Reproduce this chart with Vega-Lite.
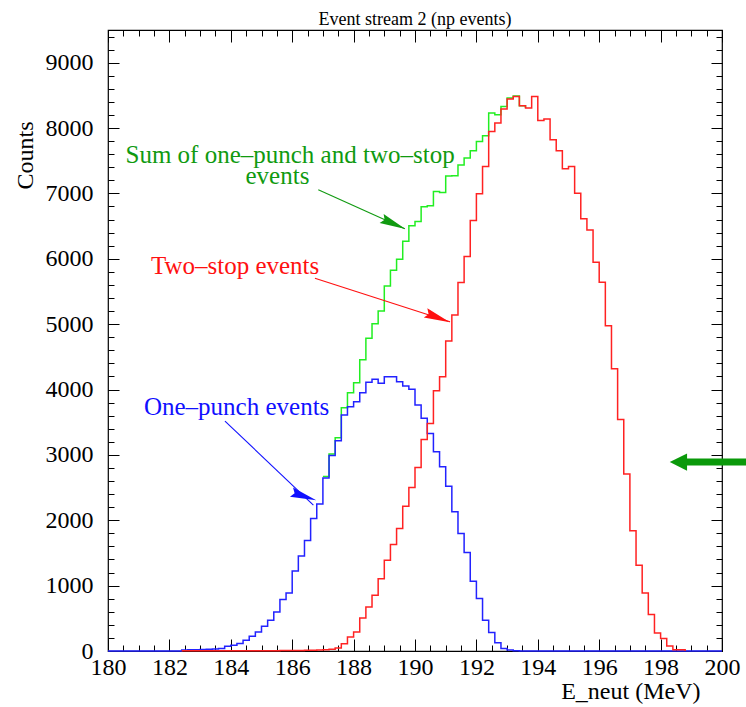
{
  "$schema": "https://vega.github.io/schema/vega-lite/v6.json",
  "width": 614,
  "height": 621,
  "autosize": {"type": "none"},
  "padding": {"left": 108, "top": 30, "right": 24, "bottom": 56},
  "background": "white",
  "title": {
    "text": "Event stream 2 (np events)",
    "font": "Liberation Serif",
    "fontSize": 18,
    "fontWeight": "normal",
    "color": "#000",
    "anchor": "middle",
    "frame": "group",
    "baseline": "alphabetic",
    "offset": 6,
    "dy": 19
  },
  "config": {
    "view": {"stroke": "#000", "strokeWidth": 1.2},
    "axis": {
      "grid": false,
      "domain": false,
      "tickColor": "#000",
      "tickWidth": 1,
      "labelColor": "#000",
      "labelFont": "Liberation Serif",
      "labelFontSize": 24,
      "titleFont": "Liberation Serif",
      "titleFontSize": 24,
      "titleFontWeight": "normal",
      "titleColor": "#000"
    }
  },
  "datasets": {
    "hist": [
      {"E": 180.0, "one": 0, "two": null, "sum": null},
      {"E": 180.2, "one": 0, "two": null, "sum": null},
      {"E": 180.4, "one": 0, "two": null, "sum": null},
      {"E": 180.6, "one": 0, "two": null, "sum": null},
      {"E": 180.8, "one": 0, "two": null, "sum": null},
      {"E": 181.0, "one": 0, "two": null, "sum": null},
      {"E": 181.2, "one": 0, "two": null, "sum": null},
      {"E": 181.4, "one": 0, "two": null, "sum": null},
      {"E": 181.6, "one": 0, "two": null, "sum": null},
      {"E": 181.8, "one": 0, "two": null, "sum": null},
      {"E": 182.0, "one": 0, "two": null, "sum": null},
      {"E": 182.2, "one": 0, "two": null, "sum": null},
      {"E": 182.4, "one": 15, "two": 5, "sum": null},
      {"E": 182.6, "one": 18, "two": 5, "sum": null},
      {"E": 182.8, "one": 20, "two": 5, "sum": null},
      {"E": 183.0, "one": 22, "two": 5, "sum": null},
      {"E": 183.2, "one": 25, "two": 5, "sum": null},
      {"E": 183.4, "one": 30, "two": 5, "sum": null},
      {"E": 183.6, "one": 40, "two": 5, "sum": null},
      {"E": 183.8, "one": 72, "two": 5, "sum": null},
      {"E": 184.0, "one": 87, "two": 5, "sum": null},
      {"E": 184.2, "one": 113, "two": 5, "sum": null},
      {"E": 184.4, "one": 164, "two": 5, "sum": null},
      {"E": 184.6, "one": 225, "two": 5, "sum": null},
      {"E": 184.8, "one": 291, "two": 5, "sum": null},
      {"E": 185.0, "one": 378, "two": 5, "sum": null},
      {"E": 185.2, "one": 470, "two": 5, "sum": null},
      {"E": 185.4, "one": 597, "two": 5, "sum": null},
      {"E": 185.6, "one": 787, "two": 6, "sum": null},
      {"E": 185.8, "one": 888, "two": 6, "sum": null},
      {"E": 186.0, "one": 1225, "two": 8, "sum": null},
      {"E": 186.2, "one": 1455, "two": 8, "sum": null},
      {"E": 186.4, "one": 1690, "two": 10, "sum": null},
      {"E": 186.6, "one": 2028, "two": 10, "sum": null},
      {"E": 186.8, "one": 2247, "two": 15, "sum": null},
      {"E": 187.0, "one": 2648, "two": 20, "sum": 2668},
      {"E": 187.2, "one": 2990, "two": 25, "sum": 3015},
      {"E": 187.4, "one": 3216, "two": 45, "sum": 3261},
      {"E": 187.6, "one": 3610, "two": 112, "sum": 3722},
      {"E": 187.8, "one": 3737, "two": 214, "sum": 3951},
      {"E": 188.0, "one": 3814, "two": 291, "sum": 4105},
      {"E": 188.2, "one": 3951, "two": 505, "sum": 4456},
      {"E": 188.4, "one": 4110, "two": 673, "sum": 4783},
      {"E": 188.6, "one": 4156, "two": 852, "sum": 5008},
      {"E": 188.8, "one": 4095, "two": 1107, "sum": 5202},
      {"E": 189.0, "one": 4196, "two": 1388, "sum": 5584},
      {"E": 189.2, "one": 4196, "two": 1628, "sum": 5824},
      {"E": 189.4, "one": 4120, "two": 1873, "sum": 5993},
      {"E": 189.6, "one": 4054, "two": 2215, "sum": 6269},
      {"E": 189.8, "one": 4003, "two": 2501, "sum": 6504},
      {"E": 190.0, "one": 3763, "two": 2807, "sum": 6570},
      {"E": 190.2, "one": 3559, "two": 3236, "sum": 6795},
      {"E": 190.4, "one": 3329, "two": 3481, "sum": 6810},
      {"E": 190.6, "one": 3047, "two": 3981, "sum": 7028},
      {"E": 190.8, "one": 2818, "two": 4196, "sum": 7014},
      {"E": 191.0, "one": 2522, "two": 4743, "sum": 7265},
      {"E": 191.2, "one": 2129, "two": 5141, "sum": 7270},
      {"E": 191.4, "one": 1798, "two": 5636, "sum": 7434},
      {"E": 191.6, "one": 1507, "two": 6034, "sum": 7541},
      {"E": 191.8, "one": 1067, "two": 6585, "sum": 7652},
      {"E": 192.0, "one": 802, "two": 6994, "sum": 7796},
      {"E": 192.2, "one": 470, "two": 7412, "sum": 7882},
      {"E": 192.4, "one": 282, "two": 7948, "sum": 8230},
      {"E": 192.6, "one": 127, "two": 8077, "sum": 8204},
      {"E": 192.8, "one": 40, "two": 8291, "sum": 8331},
      {"E": 193.0, "one": 15, "two": 8444, "sum": 8459},
      {"E": 193.2, "one": 5, "two": 8484, "sum": 8489},
      {"E": 193.4, "one": 0, "two": 8341, "sum": 8341},
      {"E": 193.6, "one": 0, "two": 8306, "sum": 8306},
      {"E": 193.8, "one": 0, "two": 8484, "sum": null},
      {"E": 194.0, "one": 0, "two": 8116, "sum": null},
      {"E": 194.2, "one": 0, "two": 8137, "sum": null},
      {"E": 194.4, "one": 0, "two": 7821, "sum": null},
      {"E": 194.6, "one": 0, "two": 7652, "sum": null},
      {"E": 194.8, "one": 0, "two": 7377, "sum": null},
      {"E": 195.0, "one": 0, "two": 7412, "sum": null},
      {"E": 195.2, "one": 0, "two": 7004, "sum": null},
      {"E": 195.4, "one": 0, "two": 6611, "sum": null},
      {"E": 195.6, "one": 0, "two": 6442, "sum": null},
      {"E": 195.8, "one": 0, "two": 5948, "sum": null},
      {"E": 196.0, "one": 0, "two": 5642, "sum": null},
      {"E": 196.2, "one": 0, "two": 4977, "sum": null},
      {"E": 196.4, "one": 0, "two": 4318, "sum": null},
      {"E": 196.6, "one": 0, "two": 3543, "sum": null},
      {"E": 196.8, "one": 0, "two": 2706, "sum": null},
      {"E": 197.0, "one": 0, "two": 1838, "sum": null},
      {"E": 197.2, "one": 0, "two": 1312, "sum": null},
      {"E": 197.4, "one": 0, "two": 888, "sum": null},
      {"E": 197.6, "one": 0, "two": 557, "sum": null},
      {"E": 197.8, "one": 0, "two": 276, "sum": null},
      {"E": 198.0, "one": 0, "two": 190, "sum": null},
      {"E": 198.2, "one": 0, "two": 77, "sum": null},
      {"E": 198.4, "one": 0, "two": 21, "sum": null},
      {"E": 198.6, "one": 0, "two": 21, "sum": null},
      {"E": 198.8, "one": 0, "two": 0, "sum": null},
      {"E": 199.0, "one": 0, "two": null, "sum": null},
      {"E": 199.2, "one": 0, "two": null, "sum": null},
      {"E": 199.4, "one": 0, "two": null, "sum": null},
      {"E": 199.6, "one": 0, "two": null, "sum": null},
      {"E": 199.8, "one": 0, "two": null, "sum": null},
      {"E": 200.0, "one": 0, "two": null, "sum": null}
    ],
    "arrows": [
      {"series": "sum", "E0": 186.85, "n0": 7055, "E1": 189.67, "n1": 6458},
      {"series": "two", "E0": 186.74, "n0": 5703, "E1": 191.14, "n1": 5038},
      {"series": "one", "E0": 183.81, "n0": 3518, "E1": 186.69, "n1": 2231}
    ],
    "heads": [
      {"series": "sum", "E": 189.30, "n": 6536},
      {"series": "two", "E": 190.74, "n": 5100},
      {"series": "one", "E": 186.38, "n": 2369}
    ],
    "notes": [
      {"series": "sum", "E": 185.93, "n": 7465, "label": "Sum of one–punch and two–stop"},
      {"series": "sum", "E": 185.52, "n": 7139, "label": "events"},
      {"series": "two", "E": 184.14, "n": 5773, "label": "Two–stop events"},
      {"series": "one", "E": 184.19, "n": 3606, "label": "One–punch events"}
    ],
    "marker": [
      {"E0": 198.85, "E1": 200.8, "n": 2890, "Ehead": 198.58}
    ]
  },
  "layer": [
    {
      "data": {"name": "hist"},
      "mark": {"type": "line", "interpolate": "step-after", "color": "#22ee22", "strokeWidth": 1.5},
      "encoding": {
        "x": {
          "field": "E", "type": "quantitative",
          "scale": {"domain": [180, 200], "nice": false, "zero": false},
          "axis": {
            "orient": "bottom", "ticks": false, "labels": true,
            "values": [180, 182, 184, 186, 188, 190, 192, 194, 196, 198, 200],
            "format": "d", "labelPadding": 4, "labelFlush": false,
            "title": "E_neut (MeV)", "titleAnchor": "end", "titleAlign": "right",
            "titleBaseline": "alphabetic", "titleX": 592, "titleY": 47
          }
        },
        "y": {
          "field": "sum", "type": "quantitative",
          "scale": {"domain": [0, 9500], "nice": false},
          "axis": {
            "orient": "left", "ticks": false, "labels": true,
            "values": [0, 1000, 2000, 3000, 4000, 5000, 6000, 7000, 8000, 9000],
            "format": "d", "labelPadding": 15, "labelFlush": false, "labelBaseline": "middle",
            "title": "Counts", "titleAngle": -90, "titleAlign": "center",
            "titleBaseline": "alphabetic", "titleX": -76, "titleY": 125
          }
        }
      }
    },
    {
      "data": {"name": "hist"},
      "mark": {"type": "line", "interpolate": "step-after", "color": "#2222ff", "strokeWidth": 1.5},
      "encoding": {
        "x": {
          "field": "E", "type": "quantitative",
          "axis": {
            "orient": "bottom", "labels": false, "title": null, "tickSize": -12,
            "values": [180, 182, 184, 186, 188, 190, 192, 194, 196, 198, 200]
          }
        },
        "y": {
          "field": "one", "type": "quantitative",
          "axis": {
            "orient": "left", "labels": false, "title": null, "tickSize": -11,
            "values": [0, 1000, 2000, 3000, 4000, 5000, 6000, 7000, 8000, 9000]
          }
        }
      }
    },
    {
      "data": {"name": "hist"},
      "mark": {"type": "line", "interpolate": "step-after", "color": "#ff2222", "strokeWidth": 1.5},
      "encoding": {
        "x": {
          "field": "E", "type": "quantitative",
          "axis": {
            "orient": "bottom", "labels": false, "title": null, "tickSize": -6,
            "values": [180, 180.5, 181, 181.5, 182, 182.5, 183, 183.5, 184, 184.5, 185, 185.5, 186, 186.5, 187, 187.5, 188, 188.5, 189, 189.5, 190, 190.5, 191, 191.5, 192, 192.5, 193, 193.5, 194, 194.5, 195, 195.5, 196, 196.5, 197, 197.5, 198, 198.5, 199, 199.5, 200]
          }
        },
        "y": {
          "field": "two", "type": "quantitative",
          "axis": {
            "orient": "left", "labels": false, "title": null, "tickSize": -6,
            "values": [0, 200, 400, 600, 800, 1000, 1200, 1400, 1600, 1800, 2000, 2200, 2400, 2600, 2800, 3000, 3200, 3400, 3600, 3800, 4000, 4200, 4400, 4600, 4800, 5000, 5200, 5400, 5600, 5800, 6000, 6200, 6400, 6600, 6800, 7000, 7200, 7400, 7600, 7800, 8000, 8200, 8400, 8600, 8800, 9000, 9200, 9400]
          }
        }
      }
    },
    {
      "data": {"name": "arrows"},
      "mark": {"type": "rule", "strokeWidth": 1.1},
      "encoding": {
        "x": {
          "field": "E0", "type": "quantitative",
          "axis": {
            "orient": "top", "labels": false, "title": null, "tickSize": -12,
            "values": [180, 182, 184, 186, 188, 190, 192, 194, 196, 198, 200]
          }
        },
        "y": {
          "field": "n0", "type": "quantitative",
          "axis": {
            "orient": "right", "labels": false, "title": null, "tickSize": -11,
            "values": [0, 1000, 2000, 3000, 4000, 5000, 6000, 7000, 8000, 9000]
          }
        },
        "x2": {"field": "E1"},
        "y2": {"field": "n1"},
        "color": {
          "field": "series", "type": "nominal",
          "scale": {"domain": ["sum", "two", "one"], "range": ["#109a10", "#ff1010", "#1010ff"]},
          "legend": null
        }
      }
    },
    {
      "data": {"name": "heads"},
      "mark": {"type": "point", "filled": true, "opacity": 1, "size": 676, "shape": "M0,-1L0.38,1L0,0.75L-0.38,1Z"},
      "encoding": {
        "x": {
          "field": "E", "type": "quantitative",
          "axis": {
            "orient": "top", "labels": false, "title": null, "tickSize": -6,
            "values": [180, 180.5, 181, 181.5, 182, 182.5, 183, 183.5, 184, 184.5, 185, 185.5, 186, 186.5, 187, 187.5, 188, 188.5, 189, 189.5, 190, 190.5, 191, 191.5, 192, 192.5, 193, 193.5, 194, 194.5, 195, 195.5, 196, 196.5, 197, 197.5, 198, 198.5, 199, 199.5, 200]
          }
        },
        "y": {
          "field": "n", "type": "quantitative",
          "axis": {
            "orient": "right", "labels": false, "title": null, "tickSize": -6,
            "values": [0, 200, 400, 600, 800, 1000, 1200, 1400, 1600, 1800, 2000, 2200, 2400, 2600, 2800, 3000, 3200, 3400, 3600, 3800, 4000, 4200, 4400, 4600, 4800, 5000, 5200, 5400, 5600, 5800, 6000, 6200, 6400, 6600, 6800, 7000, 7200, 7400, 7600, 7800, 8000, 8200, 8400, 8600, 8800, 9000, 9200, 9400]
          }
        },
        "angle": {
          "field": "series", "type": "nominal",
          "scale": {"domain": ["sum", "two", "one"], "range": [114, 108, 134]},
          "legend": null
        },
        "color": {
          "field": "series", "type": "nominal",
          "scale": {"domain": ["sum", "two", "one"], "range": ["#109a10", "#ff1010", "#1010ff"]},
          "legend": null
        }
      }
    },
    {
      "data": {"name": "notes"},
      "mark": {"type": "text", "font": "Liberation Serif", "fontSize": 25, "align": "center", "baseline": "alphabetic"},
      "encoding": {
        "x": {"field": "E", "type": "quantitative", "axis": null},
        "y": {"field": "n", "type": "quantitative", "axis": null},
        "text": {"field": "label"},
        "color": {
          "field": "series", "type": "nominal",
          "scale": {"domain": ["sum", "two", "one"], "range": ["#109a10", "#ff1010", "#1010ff"]},
          "legend": null
        }
      }
    },
    {
      "data": {"name": "marker"},
      "mark": {"type": "rule", "color": "#0a990a", "strokeWidth": 7},
      "encoding": {
        "x": {"field": "E0", "type": "quantitative", "axis": null},
        "x2": {"field": "E1"},
        "y": {"field": "n", "type": "quantitative", "axis": null}
      }
    },
    {
      "data": {"name": "marker"},
      "mark": {"type": "point", "filled": true, "opacity": 1, "color": "#0a990a", "size": 300, "shape": "M0,-1L1,1L-1,1Z", "angle": 270},
      "encoding": {
        "x": {"field": "Ehead", "type": "quantitative", "axis": null},
        "y": {"field": "n", "type": "quantitative", "axis": null}
      }
    }
  ],
  "resolve": {"axis": {"x": "independent", "y": "independent"}}
}
